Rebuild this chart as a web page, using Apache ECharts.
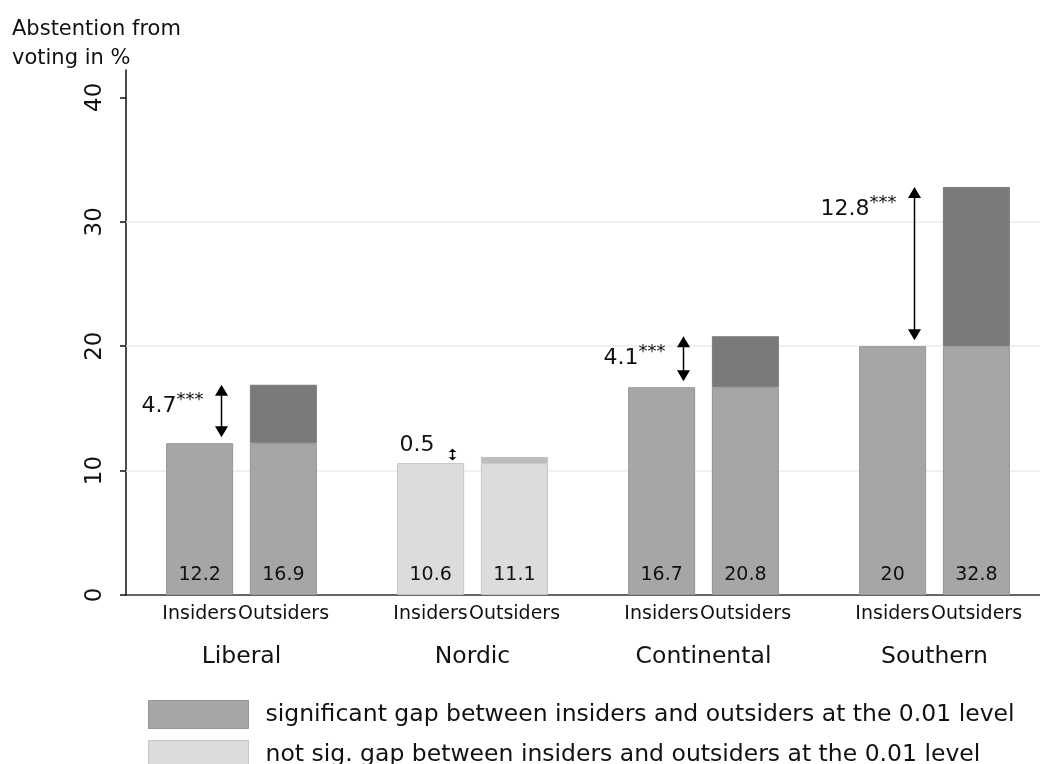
<!DOCTYPE html>
<html>
<head>
<meta charset="utf-8">
<script src="https://cdn.jsdelivr.net/npm/echarts@6/dist/echarts.min.js"></script>
<style>
  html, body { margin: 0; padding: 0; background: #ffffff; overflow: hidden; }
  /* plot area runs slightly past the right edge of the page */
  #chart { width: 1050px; height: 764px; }
</style>
</head>
<body>
<div id="chart"></div>
<script>
// Welfare regimes on the category axis
const regimes = ['Liberal', 'Nordic', 'Continental', 'Southern'];
// Abstention from voting (%) for labour-market insiders and outsiders
const insiders = [12.2, 10.6, 16.7, 20];
const outsiders = [16.9, 11.1, 20.8, 32.8];
// Outsider minus insider gap and its significance stars
const gaps = [4.7, 0.5, 4.1, 12.8];
const gapStars = ['***', '', '***', '***'];
// Y axis tick labels
const yTicks = [0, 10, 20, 30, 40];
const gridValues = [10, 20, 30];
// Legend entries
const legendSig = 'significant gap between insiders and outsiders at the 0.01 level';
const legendNotSig = 'not sig. gap between insiders and outsiders at the 0.01 level';

const FONT = 'DejaVu Sans, Liberation Sans, Arial, sans-serif';
const TEXT = '#111111';

const SIG_BASE = '#a6a6a6', SIG_BASE_BORDER = '#959595', SIG_GAP = '#7a7a7a';
const NS_BASE = '#dcdcdc', NS_BASE_BORDER = '#c4c4c4', NS_GAP = '#bdbdbd';

const isSig = i => gapStars[i] !== '';
const baseStyle = i => isSig(i)
  ? { color: SIG_BASE, borderColor: SIG_BASE_BORDER, borderWidth: 1 }
  : { color: NS_BASE, borderColor: NS_BASE_BORDER, borderWidth: 1 };
const gapStyle = i => isSig(i)
  ? { color: SIG_GAP, borderColor: SIG_GAP, borderWidth: 1 }
  : { color: NS_GAP, borderColor: NS_GAP, borderWidth: 1 };

const valueLabel = {
  show: true, position: 'insideBottom', distance: 10,
  fontSize: 19, color: TEXT, fontFamily: FONT
};

const BAR_W = 67;

// Double-headed arrows with the gap annotation
function renderGap(params, api) {
  const idx = api.value(0);
  const pIn = api.coord([idx, api.value(1)]);
  const pOut = api.coord([idx, api.value(2)]);
  const x = pIn[0] - 20;
  const yTop = pOut[1];
  const yBot = pIn[1] - 6;
  const span = yBot - yTop;
  const children = [];
  const stroke = { stroke: '#000', lineWidth: 1.5 };
  if (span > 20) {
    children.push({ type: 'line', shape: { x1: x, y1: yTop + 8, x2: x, y2: yBot - 8 }, style: stroke });
    children.push({ type: 'polygon', shape: { points: [[x, yTop], [x - 6.5, yTop + 11], [x + 6.5, yTop + 11]] }, style: { fill: '#000' } });
    children.push({ type: 'polygon', shape: { points: [[x, yBot], [x - 6.5, yBot - 11], [x + 6.5, yBot - 11]] }, style: { fill: '#000' } });
  } else {
    const t = yTop - 8, b = pIn[1] - 3;
    children.push({ type: 'line', shape: { x1: x, y1: t, x2: x, y2: b }, style: stroke });
    children.push({ type: 'polygon', shape: { points: [[x, t], [x - 4, t + 3], [x + 4, t + 3]] }, style: { fill: '#000' } });
    children.push({ type: 'polygon', shape: { points: [[x, b], [x - 4, b - 3], [x + 4, b - 3]] }, style: { fill: '#000' } });
  }
  const stars = gapStars[idx];
  const ly = span > 40 ? yTop + 20 : yTop - 14;
  children.push({
    type: 'text',
    style: {
      x: x - 18, y: ly, align: 'right', verticalAlign: 'middle',
      text: '{n|' + gaps[idx] + '}' + (stars ? '{s|' + stars + '}' : ''),
      rich: {
        n: { fontSize: 22, fontFamily: FONT, fill: TEXT, lineHeight: 26, verticalAlign: 'bottom' },
        s: { fontSize: 18, fontFamily: FONT, fill: TEXT, lineHeight: 26, verticalAlign: 'top' }
      }
    }
  });
  return { type: 'group', children: children };
}

const chart = echarts.init(document.getElementById('chart'), null, { renderer: 'canvas' });

chart.setOption({
  animation: false,
  backgroundColor: '#ffffff',
  textStyle: { fontFamily: FONT, color: TEXT },
  title: {
    text: 'Abstention from\nvoting in %',
    left: 12, top: 15, padding: 0,
    textStyle: { fontSize: 21, fontWeight: 'normal', color: TEXT, fontFamily: FONT, lineHeight: 29 }
  },
  legend: {
    orient: 'vertical', left: 148, top: 700, height: 120,
    icon: 'rect',
    itemWidth: 100, itemHeight: 28, itemGap: 11,
    selectedMode: false, padding: 0,
    data: [
      { name: legendSig, itemStyle: { color: SIG_BASE, borderColor: SIG_BASE_BORDER, borderWidth: 1 } },
      { name: legendNotSig, itemStyle: { color: NS_BASE, borderColor: NS_BASE_BORDER, borderWidth: 1 } }
    ],
    textStyle: { fontSize: 23.5, color: TEXT, fontFamily: FONT, padding: [0, 0, 0, 12] }
  },
  grid: { left: 126, right: 0, top: 70, bottom: 169, containLabel: false },
  xAxis: {
    type: 'category',
    data: regimes,
    axisLine: { show: true, lineStyle: { color: '#333', width: 1.5 } },
    axisTick: { show: false },
    axisLabel: {
      margin: 8,
      formatter: v => '{a|Insiders}{b|Outsiders}\n{c|' + v + '}',
      rich: {
        a: { width: 84, align: 'center', fontSize: 19, lineHeight: 22, fontFamily: FONT, color: TEXT },
        b: { width: 84, align: 'center', fontSize: 19, lineHeight: 22, fontFamily: FONT, color: TEXT },
        c: { align: 'center', fontSize: 23.5, lineHeight: 64, fontFamily: FONT, color: TEXT }
      }
    }
  },
  yAxis: {
    type: 'value',
    min: 0, max: 42.2, interval: 10,
    axisLine: { show: true, lineStyle: { color: '#111', width: 1.5 } },
    axisTick: { show: true, length: 6, customValues: yTicks, lineStyle: { color: '#111', width: 1.5 } },
    axisLabel: { customValues: yTicks, rotate: 90, fontSize: 23, margin: 19, color: TEXT, fontFamily: FONT },
    splitLine: { show: false }
  },
  series: [
    {
      name: 'grid', type: 'line', data: [], z: 1, silent: true,
      markLine: {
        silent: true, symbol: 'none', z: 1, label: { show: false },
        lineStyle: { color: '#e6eef0', width: 1.5, type: 'solid' },
        data: gridValues.map(v => ({ yAxis: v }))
      }
    },
    {
      name: 'Insiders', type: 'bar', stack: 'in', barWidth: BAR_W, barGap: '25%', z: 3,
      data: insiders.map((v, i) => ({ value: v, itemStyle: baseStyle(i) })),
      label: valueLabel
    },
    {
      name: 'Outsiders', type: 'bar', stack: 'out', barWidth: BAR_W, z: 3,
      data: insiders.map((v, i) => ({ value: v, itemStyle: baseStyle(i) })),
      label: Object.assign({}, valueLabel, { formatter: p => String(outsiders[p.dataIndex]) })
    },
    {
      name: 'Gap', type: 'bar', stack: 'out', barWidth: BAR_W, z: 3,
      data: gaps.map((v, i) => ({ value: v, itemStyle: gapStyle(i) }))
    },
    { name: legendSig, type: 'bar', stack: 'in', data: [] },
    { name: legendNotSig, type: 'bar', stack: 'in', data: [] },
    {
      name: 'Gap arrows', type: 'custom', z: 5, silent: true,
      renderItem: renderGap,
      encode: { x: 0, y: [1, 2] },
      data: regimes.map((r, i) => [i, insiders[i], outsiders[i]])
    }
  ]
});
</script>
</body>
</html>
